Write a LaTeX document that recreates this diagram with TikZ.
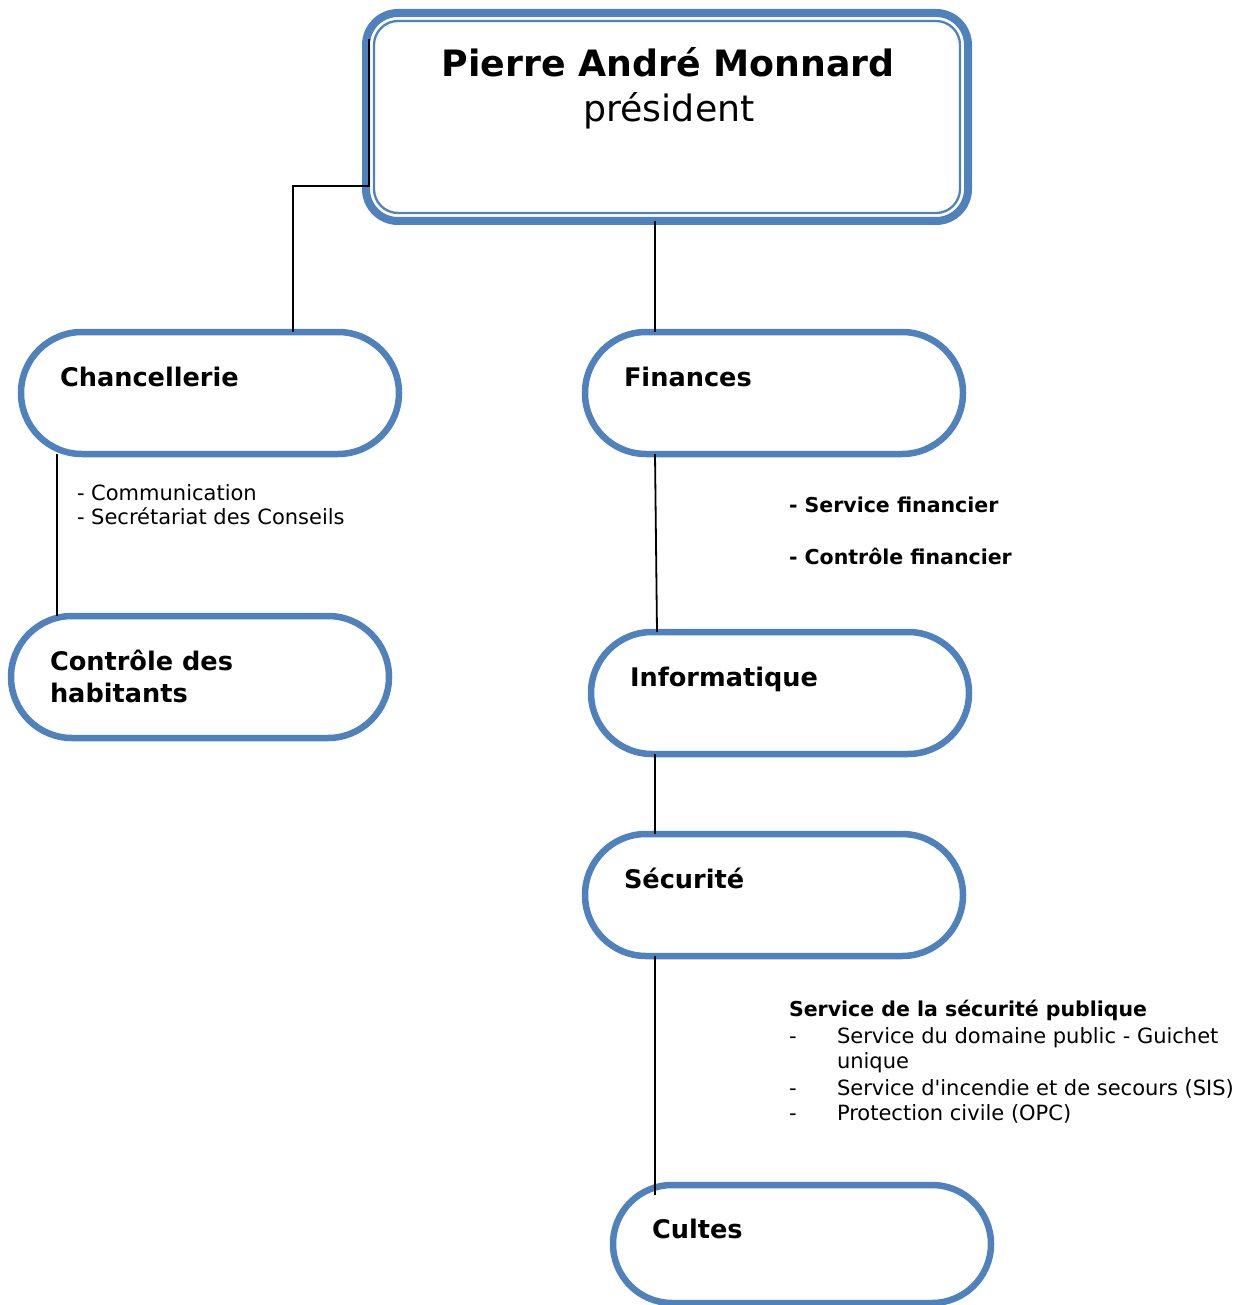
\documentclass[tikz,border=0pt]{standalone}
\usepackage{fontspec}
\setmainfont{DejaVu Sans}
\newfontfamily\dvfont{DejaVu Sans}
\usetikzlibrary{calc}
\definecolor{boxblue}{RGB}{79,129,189}
\begin{document}
\begin{tikzpicture}[x=1pt,y=-1pt, every node/.style={outer sep=0pt},
  unit/.style={draw=boxblue, line width=6.5pt, rounded corners=61pt, minimum width=378pt, minimum height=122pt, inner sep=0pt, fill=white},
  conn/.style={draw=black, line width=1.8pt},
  lbl/.style={anchor=base west, inner sep=0pt, font=\fontsize{25.6}{30}\selectfont\bfseries},
  item/.style={anchor=base west, inner sep=0pt, font=\fontsize{21}{25}\selectfont},
  itemb/.style={anchor=base west, inner sep=0pt, font=\fontsize{20.5}{25}\selectfont\bfseries}]
\useasboundingbox (0,0) rectangle (1243,1305);
\clip (0,0) rectangle (1243,1305);

% president box
\node[minimum width=602pt, minimum height=208pt, inner sep=0pt] (pres) at (667,117) {};
\draw[boxblue, line width=8pt, rounded corners=32pt] (pres.north west) rectangle (pres.south east);
\draw[boxblue, line width=2.3pt, rounded corners=24pt] ($(pres.north west)+(8,8)$) rectangle ($(pres.south east)+(-8,-8)$);
\node[anchor=base, inner sep=0pt, font=\fontsize{36.3}{40}\selectfont\bfseries] (pname) at (668,77) {Pierre André Monnard};
\node[anchor=base, inner sep=0pt, font=\fontsize{36.3}{40}\selectfont] (prole) at (669,122) {président};

% units
\node[unit] (chan) at (210,393) {};
\node[unit] (ctrl) at (200,677) {};
\node[unit] (fin) at (774,393) {};
\node[unit] (info) at (780,693) {};
\node[unit] (sec) at (774,895) {};
\node[unit, minimum height=118pt, rounded corners=59pt] (cult) at (802,1244) {};

\node[lbl] (tchan) at (60,386) {Chancellerie};
\node[lbl] (tctrl1) at (50,670) {Contrôle des};
\node[lbl] (tctrl2) at (50,702) {habitants};
\node[lbl] (tfin) at (624,386) {Finances};
\node[lbl] (tinfo) at (630,686) {Informatique};
\node[lbl] (tsec) at (624,888) {Sécurité};
\node[lbl] (tcult) at (652,1238) {Cultes};

% connectors
\draw[conn] ($(pres.north west)+(3,26)$) -- ++(0,147) -| ($(chan.north west)+(272,0)$);
\draw[conn] ($(pres.south west)+(289,0)$) -- ($(fin.north west)+(70,0)$);
\draw[conn] ($(chan.south west)+(36,0)$) -- ($(ctrl.north west)+(46,0)$);
\draw[conn] ($(fin.south west)+(70,0)$) -- ($(info.north west)+(66,0)$);
\draw[conn] ($(info.south west)+(64,0)$) -- ($(sec.north west)+(70,0)$);
\coordinate (cultin) at ($(cult.north west)+(42,10)$);
\draw[conn] ($(sec.south west)+(70,0)$) -- (cultin);

% lists
\node[item] (c1) at (77,500) {- Communication};
\node[item] (c2) at (77,524) {- Secrétariat des Conseils};
\node[itemb] (f1) at (789,512) {- Service financier};
\node[itemb] (f2) at (789,564) {- Contrôle financier};
\node[itemb] (s0) at (789,1016) {Service de la sécurité publique};
\node[item] (sd1) at (789,1043) {-};
\node[item] (s1) at (837,1043) {Service du domaine public - Guichet};
\node[item] (s1b) at (837,1068) {unique};
\node[item] (sd2) at (789,1095) {-};
\node[item] (s2) at (837,1095) {\dvfont Service d'incendie et de secours (SIS)};
\node[item] (sd3) at (789,1120) {-};
\node[item] (s3) at (837,1120) {Protection civile (OPC)};
\end{tikzpicture}
\end{document}
